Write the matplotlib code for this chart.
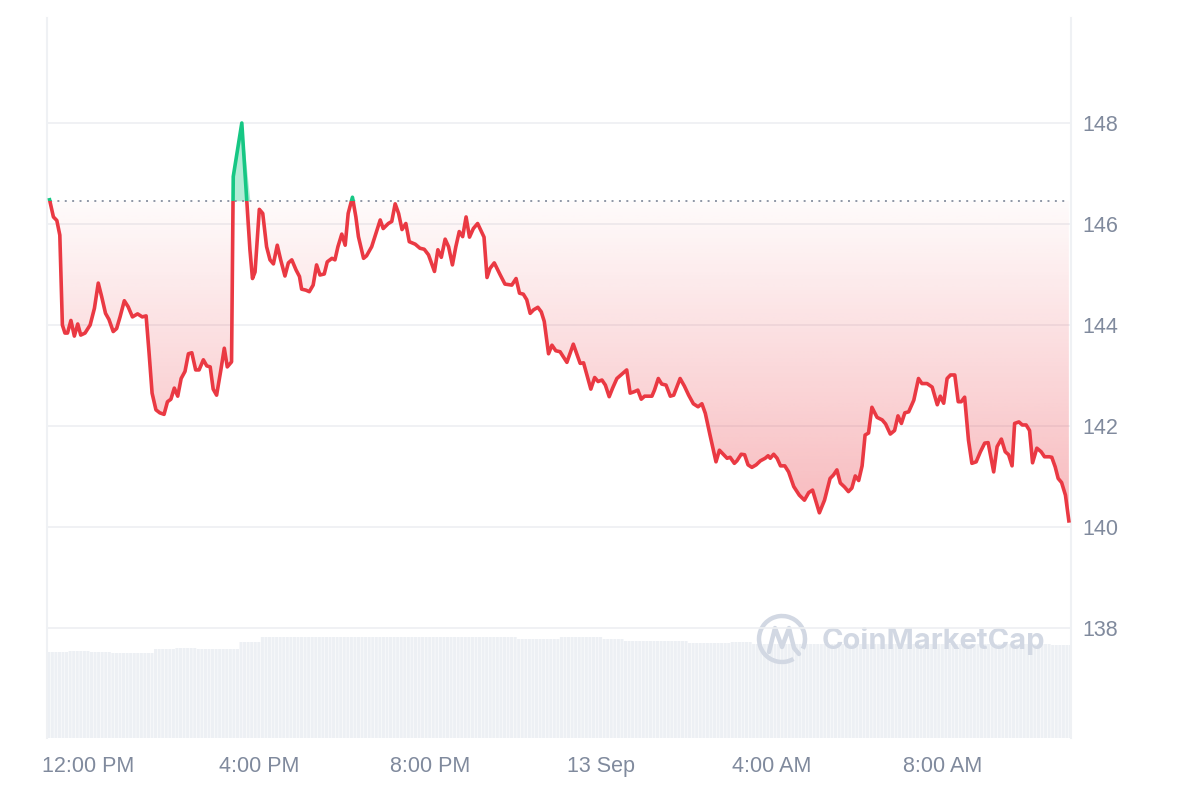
import numpy as np
import matplotlib
matplotlib.use("Agg")
import matplotlib.pyplot as plt
from matplotlib.patches import Rectangle, Polygon, Arc
from matplotlib.path import Path
import matplotlib.patches as mpatches

# price, hours after 12:00 PM on 12 Sep
hours = [
    -0.91, -0.82, -0.74, -0.67, -0.61, -0.55, -0.49, -0.41, -0.33, -0.25, -0.18, -0.08,
    0.04, 0.14, 0.23, 0.31, 0.40, 0.48, 0.58, 0.66, 0.74, 0.84, 0.93,
    1.03, 1.15, 1.26, 1.35, 1.42, 1.49, 1.58, 1.67, 1.77, 1.85, 1.93,
    2.01, 2.09, 2.17, 2.26, 2.34, 2.42, 2.51, 2.59, 2.69, 2.77, 2.85, 2.92,
    3.00, 3.10, 3.18, 3.25, 3.35, 3.39, 3.59, 3.78, 3.84, 3.90,
    4.00, 4.08, 4.17, 4.25, 4.33, 4.42, 4.50, 4.60, 4.68, 4.76, 4.86, 4.94, 4.99,
    5.09, 5.17, 5.26, 5.34, 5.42, 5.52, 5.59, 5.70, 5.77, 5.84, 5.93,
    6.01, 6.08, 6.18, 6.26, 6.32, 6.44, 6.51, 6.63, 6.83, 6.90,
    7.02, 7.10, 7.18, 7.26, 7.34, 7.43, 7.51, 7.65, 7.76, 7.86, 7.96,
    8.10, 8.18, 8.26, 8.35, 8.43, 8.52, 8.60, 8.68, 8.76, 8.84, 8.92,
    9.01, 9.11, 9.26, 9.33, 9.40, 9.50, 9.64, 9.75, 9.91,
    10.01, 10.09, 10.18, 10.26, 10.34, 10.42, 10.52, 10.60, 10.67, 10.77, 10.85, 10.94,
    11.04, 11.20, 11.35, 11.51, 11.59, 11.76, 11.85, 11.93,
    12.02, 12.10, 12.19, 12.27, 12.37, 12.49, 12.60, 12.68, 12.78, 12.86, 12.94,
    13.02, 13.19, 13.25, 13.34, 13.42, 13.52, 13.62, 13.70, 13.85, 13.95,
    14.05, 14.16, 14.27, 14.36, 14.44, 14.55, 14.69, 14.77, 14.87, 14.95,
    15.02, 15.12, 15.18, 15.28, 15.36, 15.44, 15.53, 15.63, 15.73, 15.84, 15.91, 15.96,
    16.04, 16.12, 16.20, 16.30, 16.39, 16.51, 16.64, 16.76, 16.86, 16.95,
    17.11, 17.23, 17.36, 17.44, 17.52, 17.60, 17.70, 17.79, 17.87, 17.95,
    18.03, 18.11, 18.18, 18.26, 18.34, 18.46, 18.58, 18.66, 18.77, 18.87, 18.95,
    19.03, 19.11, 19.20, 19.32, 19.43, 19.51, 19.63, 19.75, 19.87, 19.94,
    20.02, 20.10, 20.18, 20.28, 20.36, 20.43, 20.51, 20.60, 20.68, 20.78, 20.88, 20.98,
    21.06, 21.19, 21.27, 21.37, 21.46, 21.54, 21.62, 21.68, 21.78, 21.86, 21.95,
    22.03, 22.10, 22.20, 22.30, 22.38, 22.49, 22.55, 22.63, 22.70, 22.78, 22.87, 22.95,
]
price = [
    146.48, 146.14, 146.07, 145.78, 144.00, 143.84, 143.84, 144.09, 143.78, 144.02, 143.80, 143.84,
    144.00, 144.33, 144.83, 144.56, 144.23, 144.11, 143.87, 143.93, 144.16, 144.48, 144.36,
    144.16, 144.22, 144.16, 144.18, 143.44, 142.65, 142.32, 142.26, 142.23, 142.48, 142.53,
    142.75, 142.59, 142.94, 143.08, 143.43, 143.45, 143.11, 143.11, 143.31, 143.19, 143.17, 142.73,
    142.61, 143.11, 143.54, 143.17, 143.27, 146.94, 148.00, 145.49, 144.92, 145.05,
    146.29, 146.21, 145.55, 145.29, 145.21, 145.58, 145.29, 144.97, 145.23, 145.29, 145.09, 144.96, 144.71,
    144.69, 144.66, 144.79, 145.19, 144.99, 145.01, 145.25, 145.32, 145.29, 145.55, 145.80,
    145.58, 146.21, 146.53, 146.14, 145.75, 145.32, 145.37, 145.55, 146.08, 145.91,
    146.01, 146.05, 146.40, 146.21, 145.89, 146.01, 145.65, 145.60, 145.52, 145.50, 145.39,
    145.06, 145.49, 145.34, 145.70, 145.55, 145.19, 145.55, 145.85, 145.75, 146.14, 145.74,
    145.91, 146.01, 145.74, 144.94, 145.12, 145.23, 144.99, 144.81, 144.79,
    144.92, 144.63, 144.61, 144.50, 144.23, 144.30, 144.35, 144.26, 144.07, 143.43, 143.60, 143.49,
    143.47, 143.26, 143.62, 143.24, 143.25, 142.73, 142.96, 142.88,
    142.91, 142.81, 142.58, 142.75, 142.94, 143.03, 143.11, 142.65, 142.68, 142.71, 142.53,
    142.59, 142.59, 142.71, 142.94, 142.83, 142.81, 142.59, 142.61, 142.94, 142.79,
    142.61, 142.44, 142.38, 142.44, 142.25, 141.82, 141.29, 141.52, 141.43, 141.36,
    141.38, 141.26, 141.31, 141.44, 141.43, 141.23, 141.18, 141.23, 141.31, 141.36, 141.41, 141.36,
    141.44, 141.36, 141.21, 141.21, 141.09, 140.80, 140.63, 140.53, 140.68, 140.73,
    140.28, 140.53, 140.96, 141.03, 141.13, 140.87, 140.79, 140.70, 140.77, 141.01,
    140.92, 141.21, 141.82, 141.86, 142.37, 142.17, 142.12, 142.04, 141.84, 141.91, 142.20,
    142.05, 142.26, 142.28, 142.51, 142.94, 142.84, 142.84, 142.77, 142.42, 142.59,
    142.45, 142.94, 143.01, 143.01, 142.48, 142.48, 142.57, 141.72, 141.26, 141.29, 141.49, 141.66,
    141.67, 141.09, 141.59, 141.74, 141.49, 141.43, 141.21, 142.05, 142.08, 142.02, 142.02,
    141.91, 141.27, 141.56, 141.49, 141.39, 141.39, 141.38, 141.19, 140.96, 140.88, 140.63, 140.12,
]
open_price = 146.46

# rolling volume, one value per half hour from ~11:00 AM
volume = [
    8.6, 8.7, 8.6, 8.5, 8.5, 8.9, 9.0, 8.9, 8.9, 9.6,
    10.1, 10.1, 10.1, 10.1, 10.1, 10.1, 10.1, 10.1, 10.1, 10.1,
    10.1, 10.1, 9.9, 9.9, 10.1, 10.1, 9.9, 9.7, 9.7, 9.7,
    9.5, 9.5, 9.6, 9.4, 9.4, 9.4, 9.4, 9.4, 9.4, 9.4,
    9.4, 9.4, 9.4, 9.4, 9.4, 9.4, 9.4, 9.3,
]

tick_hours = [0, 4, 8, 12, 16, 20]
tick_labels = ['12:00 PM', '4:00 PM', '8:00 PM', '13 Sep', '4:00 AM', '8:00 AM']
price_ticks = [138, 140, 142, 144, 146, 148]

assert len(hours) == len(price)

RED = '#EA3943'
GREEN = '#16C784'
GRID = '#EDEFF2'
LABEL = '#808A9D'

plt.rcParams['font.family'] = ['Liberation Sans', 'DejaVu Sans']

h = np.array(hours)
p = np.array(price)
x0, x1 = -0.97, 23.0
y0, y1 = 135.82, 150.08

fig = plt.figure(figsize=(12, 8), dpi=100)
rect = [47 / 1200, 62 / 800, 1024 / 1200, 720 / 800]

# volume in the background
axv = fig.add_axes(rect, zorder=0)
vol5 = np.repeat(volume, 6)
step = 1 / 12
bx = x0 + (np.arange(len(vol5)) + 0.5) * step
bars = axv.bar(bx, vol5, width=step * 0.85, color='#EDF0F4', linewidth=0)
for b in bars:
    b.set_snap(False)
axv.set_xlim(x0, x1)
axv.set_ylim(0, 72)
axv.axis('off')

ax = fig.add_axes(rect, zorder=1)
ax.patch.set_visible(False)
ax.set_xlim(x0, x1)
ax.set_ylim(y0, y1)

for yv in price_ticks:
    ax.axhline(yv, color=GRID, lw=1.2, zorder=0)

# red gradient under the open line
low = np.minimum(p, open_price)
verts = list(zip(h, low)) + [(h[-1], open_price), (h[0], open_price)]
clip = Polygon(verts, closed=True, transform=ax.transData, facecolor='none', edgecolor='none')
ax.add_patch(clip)
alpha = np.linspace(0.02, 0.36, 256)
grad = np.zeros((256, 2, 4))
grad[..., 0] = 234 / 255
grad[..., 1] = 57 / 255
grad[..., 2] = 67 / 255
grad[..., 3] = alpha[:, None]
im = ax.imshow(grad, extent=[h[0], h[-1], 140.0, open_price], origin='upper',
               aspect='auto', interpolation='bilinear', zorder=1)
im.set_clip_path(clip)

# green fill above the open line
ax.fill_between(h, open_price, np.maximum(p, open_price), color=GREEN, alpha=0.33,
                linewidth=0, zorder=1)

ax.hlines(open_price, h[0], h[-1], colors='#8F97A6', linestyles=(0, (1, 2.8)), lw=1.4, zorder=2)

red_line, = ax.plot(h, p, color=RED, lw=2.6, solid_joinstyle='round', zorder=3)
red_line.set_clip_path(Rectangle((x0, y0), x1 - x0, open_price - y0, transform=ax.transData))
green_line, = ax.plot(h, p, color=GREEN, lw=2.6, solid_joinstyle='round', zorder=3)
green_line.set_clip_path(Rectangle((x0, open_price), x1 - x0, y1 - open_price, transform=ax.transData))

ax.set_xlim(x0, x1)
ax.set_ylim(y0, y1)
ax.set_xticks(tick_hours)
ax.set_xticklabels(tick_labels)
ax.set_yticks(price_ticks)
ax.yaxis.tick_right()
ax.tick_params(axis='y', length=0, pad=8.5, labelsize=15.5, labelcolor=LABEL)
ax.tick_params(axis='x', length=0, pad=13, labelsize=15.5, labelcolor=LABEL)
for side in ['top', 'bottom']:
    ax.spines[side].set_visible(False)
for side in ['left', 'right']:
    ax.spines[side].set_color('#EFF1F4')
    ax.spines[side].set_linewidth(1.5)

# watermark
wm = fig.add_axes([0, 0, 1, 1], zorder=0.5)
wm.set_xlim(0, 1200)
wm.set_ylim(800, 0)
wm.axis('off')
WM = '#D2D8E3'
wm.add_patch(Arc((782, 639), 46, 46, theta1=60, theta2=385, color=WM, lw=3.2))
m_path = Path([(769, 652), (775, 628), (782, 647), (789, 628), (794, 648), (799, 654)],
              [Path.MOVETO] + [Path.LINETO] * 5)
wm.add_patch(mpatches.PathPatch(m_path, fill=False, edgecolor=WM, lw=3.2,
                                joinstyle='round', capstyle='round'))
wm.text(822, 641, 'CoinMarketCap', fontsize=21, fontweight='bold', color=WM,
        family=['Inter', 'DejaVu Sans'], va='center', ha='left')

fig.savefig('out.png', dpi=100, facecolor='white')
